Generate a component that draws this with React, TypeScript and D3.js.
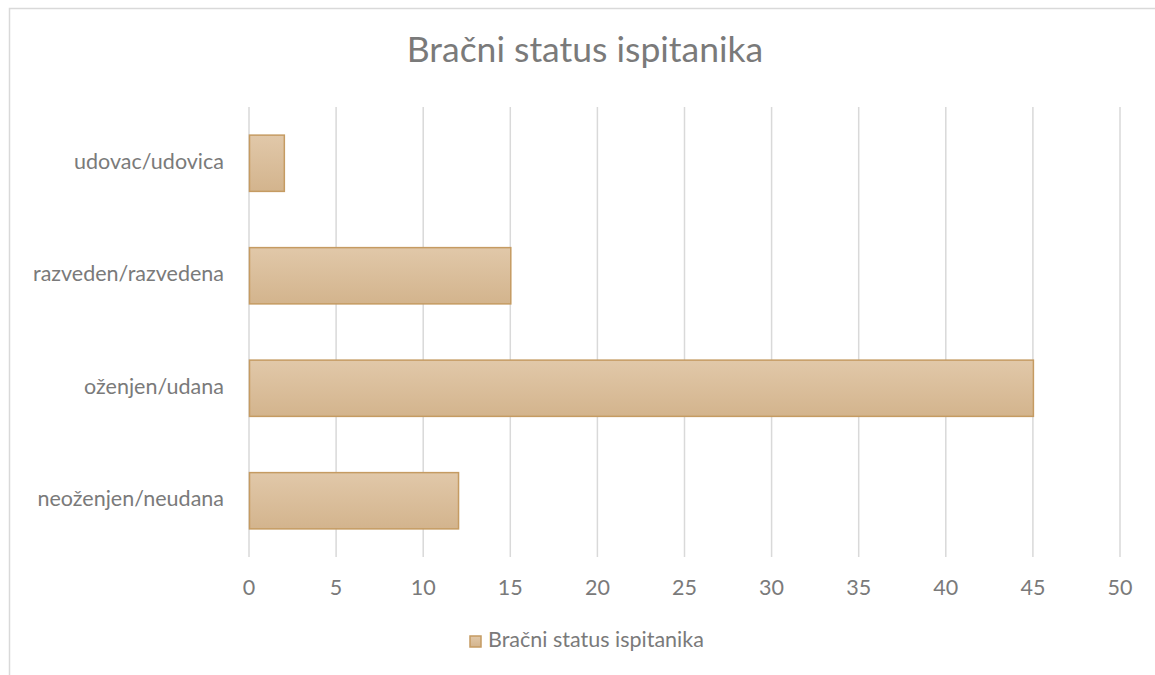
import React from "react";
import * as d3 from "d3";

const categories = ["neoženjen/neudana", "oženjen/udana", "razveden/razvedena", "udovac/udovica"];
const values = [12, 45, 15, 2];
const xTicks = [0, 5, 10, 15, 20, 25, 30, 35, 40, 45, 50];
const title = "Bračni status ispitanika";
const seriesName = "Bračni status ispitanika";

const W = 1155;
const H = 675;
const FONT = "Lato, Open Sans, sans-serif";
const GRAY = "#7a7a7a";

export default function App() {
  const x = d3.scaleLinear().domain([0, 50]).range([249, 1120]);
  const y = d3
    .scaleBand<string>()
    .domain([...categories].reverse())
    .range([107, 557])
    .paddingInner(0.5)
    .paddingOuter(0.25);

  return (
    <svg
      width={W}
      height={H}
      style={{ position: "absolute", left: 0, top: 0, background: "#fff" }}
    >
      <defs>
        <linearGradient id="barGrad" x1="0" y1="0" x2="0" y2="1">
          <stop offset="0" stopColor="#e1c8a9" />
          <stop offset="1" stopColor="#d3b48d" />
        </linearGradient>
      </defs>
      <rect x={0} y={0} width={W} height={H} fill="#fff" />
      <rect x={9.5} y={8.5} width={W + 10} height={H + 10} fill="none" stroke="#d9d9d9" strokeWidth={1.5} />
      <text x={585} y={53} textAnchor="middle" dominantBaseline="middle" fontFamily={FONT} fontSize={35.5} fill={GRAY}>
        {title}
      </text>
      {xTicks.map((t) => (
        <g key={t}>
          <line x1={x(t)} x2={x(t)} y1={107} y2={557} stroke="#d9d9d9" strokeWidth={1.5} />
          <text x={x(t)} y={590} textAnchor="middle" dominantBaseline="middle" fontFamily={FONT} fontSize={21.5} fill={GRAY}>
            {t}
          </text>
        </g>
      ))}
      {categories.map((c, i) => (
        <g key={c}>
          <rect
            x={x(0) + 0.5}
            y={y(c)!}
            width={x(values[i]) - x(0)}
            height={y.bandwidth()}
            fill="url(#barGrad)"
            stroke="#c59b62"
            strokeWidth={1.5}
          />
          <text
            x={224}
            y={y(c)! + y.bandwidth() / 2}
            textAnchor="end"
            dominantBaseline="middle"
            fontFamily={FONT}
            fontSize={21.5}
            fill={GRAY}
          >
            {c}
          </text>
        </g>
      ))}
      <rect x={470} y={636} width={11} height={11} fill="url(#barGrad)" stroke="#c59b62" strokeWidth={1.5} />
      <text x={488} y={642} dominantBaseline="middle" fontFamily={FONT} fontSize={21.5} fill={GRAY}>
        {seriesName}
      </text>
    </svg>
  );
}
